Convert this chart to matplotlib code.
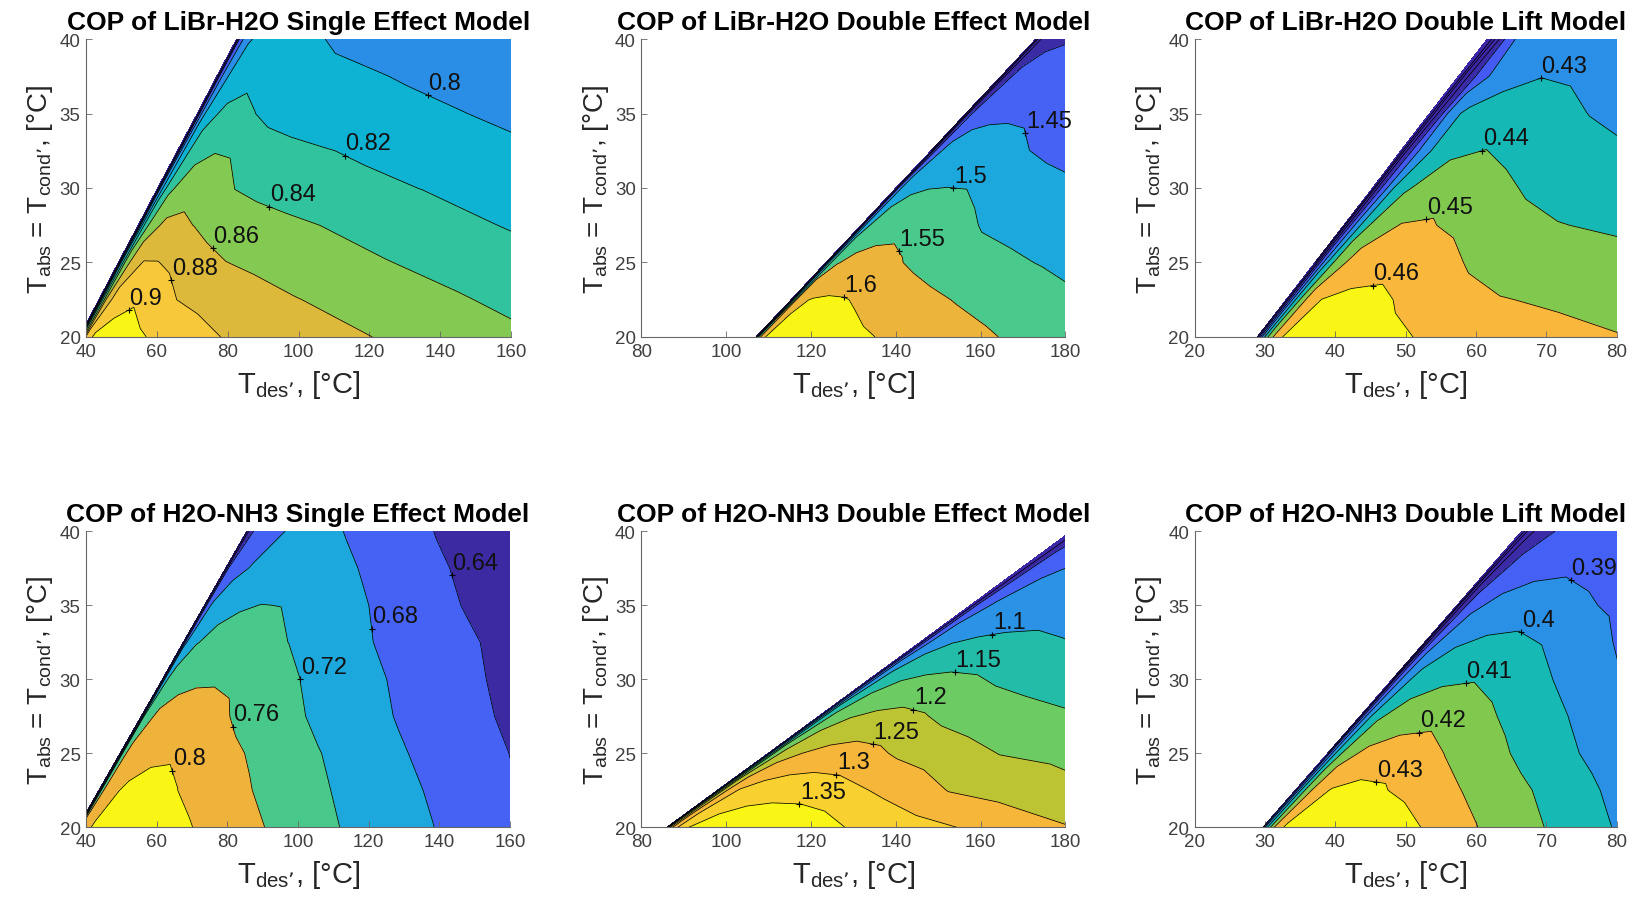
import numpy as np
import matplotlib.pyplot as plt

plt.rcParams['font.family'] = ['Liberation Sans', 'DejaVu Sans']
plt.rcParams['mathtext.default'] = 'regular'

# rows of every map: T_abs = T_cond' [°C]
tabs = [20, 22.5, 25, 27.5, 30, 32.5, 35, 37.5, 40]

# ---------------- LiBr-H2O single effect ----------------
# lowest feasible T_des on each row, then T_des measured from that edge
libr_se_edge = [38.0, 43.6, 49.1, 54.7, 60.2, 65.8, 71.4, 76.9, 82.5]
libr_se_off = [0, 0.8, 2, 4, 7, 11, 16, 22, 30, 40, 55, 75, 100, 125]
libr_se_cop = [
    [0.70, 0.82, 0.885, 0.902, 0.905, 0.906, 0.903, 0.897, 0.889, 0.880, 0.8729, 0.8633, 0.8528, 0.8428],
    [0.70, 0.81, 0.860, 0.885, 0.895, 0.8985, 0.890, 0.880, 0.8745, 0.8696, 0.8610, 0.8526, 0.8424, 0.8322],
    [0.70, 0.80, 0.845, 0.870, 0.8808, 0.8806, 0.876, 0.868, 0.8605, 0.8555, 0.849, 0.841, 0.8315, 0.822],
    [0.70, 0.79, 0.830, 0.852, 0.863, 0.864, 0.8595, 0.853, 0.8485, 0.8445, 0.8385, 0.830, 0.8205, 0.812],
    [0.70, 0.78, 0.815, 0.837, 0.848, 0.853, 0.850, 0.8395, 0.835, 0.8305, 0.8255, 0.8195, 0.811, 0.803],
    [0.70, 0.775, 0.805, 0.826, 0.835, 0.839, 0.8375, 0.831, 0.8255, 0.8215, 0.8165, 0.810, 0.8015, 0.793],
    [0.70, 0.77, 0.798, 0.815, 0.823, 0.826, 0.8205, 0.8135, 0.8105, 0.808, 0.8045, 0.8003, 0.7945, 0.788],
    [0.70, 0.765, 0.790, 0.806, 0.812, 0.815, 0.8115, 0.8065, 0.804, 0.802, 0.7985, 0.794, 0.789, 0.784],
    [0.70, 0.76, 0.782, 0.799, 0.805, 0.808, 0.806, 0.8015, 0.7975, 0.795, 0.7915, 0.7875, 0.783, 0.778],
]
libr_se_lv = [0.72, 0.74, 0.76, 0.78, 0.80, 0.82, 0.84, 0.86, 0.88, 0.90]
libr_se_lab = [0.8, 0.82, 0.84, 0.86, 0.88, 0.9]

# ---------------- LiBr-H2O double effect ----------------
libr_de_edge = [107.0, 115.3, 123.5, 131.8, 140.0, 148.3, 156.5, 164.8, 173.0]
libr_de_off = [0, 0.6, 1.5, 3, 5, 8, 12, 17, 23, 30, 40, 52, 65, 80]
libr_de_cop = [
    [1.30, 1.50, 1.595, 1.605, 1.610, 1.614, 1.616, 1.615, 1.608, 1.597, 1.578, 1.558, 1.538, 1.515],
    [1.28, 1.46, 1.585, 1.597, 1.602, 1.6045, 1.6025, 1.595, 1.580, 1.563, 1.546, 1.530, 1.508, 1.490],
    [1.28, 1.44, 1.520, 1.548, 1.558, 1.564, 1.565, 1.553, 1.538, 1.526, 1.512, 1.496, 1.480, 1.465],
    [1.27, 1.42, 1.490, 1.515, 1.527, 1.533, 1.535, 1.530, 1.512, 1.494, 1.482, 1.470, 1.455, 1.440],
    [1.26, 1.40, 1.460, 1.484, 1.494, 1.499, 1.5005, 1.499, 1.486, 1.470, 1.458, 1.445, 1.430, 1.420],
    [1.25, 1.37, 1.430, 1.458, 1.468, 1.473, 1.475, 1.470, 1.4505, 1.440, 1.430, 1.420, 1.410, 1.400],
    [1.24, 1.35, 1.400, 1.425, 1.436, 1.440, 1.441, 1.437, 1.428, 1.420, 1.410, 1.400, 1.390, 1.380],
    [1.23, 1.33, 1.385, 1.405, 1.413, 1.416, 1.418, 1.415, 1.410, 1.400, 1.390, 1.380, 1.370, 1.360],
    [1.22, 1.31, 1.360, 1.385, 1.393, 1.397, 1.398, 1.396, 1.390, 1.385, 1.380, 1.370, 1.360, 1.350],
]
libr_de_lv = [1.25, 1.30, 1.35, 1.40, 1.45, 1.50, 1.55, 1.60]
libr_de_lab = [1.45, 1.5, 1.55, 1.6]

# ---------------- LiBr-H2O double lift ----------------
libr_dl_edge = [28.9, 33.0, 37.1, 41.2, 45.3, 49.3, 53.4, 57.5, 61.6]
libr_dl_off = [0, 0.3, 0.8, 1.6, 3, 5, 8, 12, 17, 23, 30, 40, 52]
libr_dl_cop = [
    [0.390, 0.405, 0.425, 0.442, 0.4595, 0.4612, 0.4622, 0.4626, 0.4618, 0.4597, 0.4565, 0.4530, 0.4502],
    [0.385, 0.400, 0.418, 0.436, 0.4525, 0.4601, 0.4615, 0.4618, 0.4590, 0.4555, 0.4505, 0.4485, 0.4465],
    [0.380, 0.396, 0.412, 0.428, 0.444, 0.4525, 0.4565, 0.4575, 0.4548, 0.4478, 0.4455, 0.4435, 0.441],
    [0.375, 0.392, 0.407, 0.421, 0.437, 0.446, 0.4503, 0.4508, 0.4475, 0.4435, 0.4404, 0.4385, 0.436],
    [0.370, 0.388, 0.403, 0.415, 0.430, 0.439, 0.4445, 0.4465, 0.4425, 0.4385, 0.4365, 0.4335, 0.431],
    [0.365, 0.384, 0.399, 0.410, 0.424, 0.433, 0.4385, 0.4402, 0.4375, 0.4340, 0.4317, 0.4295, 0.427],
    [0.360, 0.380, 0.395, 0.406, 0.4265, 0.4315, 0.4335, 0.4345, 0.4328, 0.4297, 0.4265, 0.4240, 0.421],
    [0.355, 0.376, 0.391, 0.403, 0.4145, 0.4225, 0.4275, 0.4298, 0.4290, 0.4275, 0.4255, 0.4230, 0.420],
    [0.350, 0.370, 0.385, 0.398, 0.4165, 0.4235, 0.4262, 0.4272, 0.4268, 0.4260, 0.4240, 0.4210, 0.418],
]
libr_dl_lv = [0.38, 0.39, 0.40, 0.41, 0.42, 0.43, 0.44, 0.45, 0.46]
libr_dl_lab = [0.43, 0.44, 0.45, 0.46]

# ---------------- H2O-NH3 single effect ----------------
nh3_se_edge = [37.6, 43.6, 49.6, 55.6, 61.6, 67.5, 73.5, 79.5, 85.5]
nh3_se_off = [0, 0.8, 2, 4, 7, 11, 16, 22, 30, 40, 55, 75, 100, 125]
nh3_se_cop = [
    [0.55, 0.760, 0.790, 0.801, 0.808, 0.812, 0.8145, 0.813, 0.804, 0.7885, 0.7555, 0.7185, 0.6815, 0.641],
    [0.55, 0.745, 0.775, 0.795, 0.803, 0.8065, 0.807, 0.8005, 0.789, 0.767, 0.7365, 0.7055, 0.6675, 0.6305],
    [0.55, 0.735, 0.765, 0.783, 0.791, 0.796, 0.797, 0.7915, 0.770, 0.751, 0.7235, 0.6895, 0.6535, 0.620],
    [0.55, 0.720, 0.748, 0.764, 0.771, 0.7745, 0.775, 0.7675, 0.748, 0.732, 0.7045, 0.6745, 0.640, 0.607],
    [0.55, 0.705, 0.730, 0.745, 0.752, 0.7555, 0.756, 0.752, 0.738, 0.718, 0.694, 0.661, 0.6295, 0.597],
    [0.55, 0.675, 0.700, 0.718, 0.728, 0.733, 0.735, 0.730, 0.7195, 0.7025, 0.678, 0.6525, 0.618, 0.586],
    [0.55, 0.660, 0.683, 0.700, 0.711, 0.717, 0.7205, 0.7195, 0.7115, 0.6915, 0.665, 0.6365, 0.605, 0.575],
    [0.55, 0.640, 0.655, 0.670, 0.682, 0.692, 0.700, 0.703, 0.693, 0.6755, 0.6505, 0.6255, 0.595, 0.565],
    [0.55, 0.625, 0.641, 0.655, 0.667, 0.6805, 0.688, 0.6895, 0.675, 0.658, 0.637, 0.614, 0.585, 0.556],
]
nh3_se_lv = [0.56, 0.60, 0.64, 0.68, 0.72, 0.76, 0.80]
nh3_se_lab = [0.64, 0.68, 0.72, 0.76, 0.8]

# ---------------- H2O-NH3 double effect ----------------
nh3_de_edge = [86.0, 97.9, 109.9, 121.8, 133.7, 145.7, 157.6, 169.5, 181.4]
nh3_de_off = [0, 0.5, 1.5, 3, 5, 8, 12, 17, 24, 32, 42, 55, 70, 95]
nh3_de_cop = [
    [0.95, 1.17, 1.265, 1.315, 1.349, 1.368, 1.381, 1.389, 1.391, 1.382, 1.350, 1.325, 1.297, 1.2515],
    [0.93, 1.10, 1.220, 1.275, 1.303, 1.318, 1.327, 1.330, 1.326, 1.309, 1.285, 1.247, 1.228, 1.198],
    [0.92, 1.05, 1.160, 1.205, 1.232, 1.250, 1.262, 1.268, 1.262, 1.240, 1.222, 1.198, 1.1885, 1.170],
    [0.91, 1.02, 1.115, 1.155, 1.180, 1.198, 1.208, 1.213, 1.2045, 1.186, 1.172, 1.159, 1.148, 1.130],
    [0.90, 0.99, 1.070, 1.110, 1.132, 1.148, 1.156, 1.160, 1.1555, 1.142, 1.132, 1.120, 1.110, 1.090],
    [0.89, 0.96, 1.030, 1.065, 1.085, 1.099, 1.105, 1.109, 1.111, 1.104, 1.094, 1.085, 1.075, 1.060],
    [0.88, 0.94, 1.000, 1.035, 1.052, 1.063, 1.070, 1.075, 1.077, 1.072, 1.065, 1.055, 1.045, 1.030],
    [0.87, 0.92, 0.975, 1.010, 1.030, 1.045, 1.053, 1.056, 1.058, 1.055, 1.050, 1.040, 1.030, 1.020],
    [0.86, 0.90, 0.950, 0.985, 1.005, 1.020, 1.030, 1.035, 1.037, 1.035, 1.030, 1.020, 1.010, 1.000],
]
nh3_de_lv = [0.95, 1.00, 1.05, 1.10, 1.15, 1.20, 1.25, 1.30, 1.35]
nh3_de_lab = [1.1, 1.15, 1.2, 1.25, 1.3, 1.35]

# ---------------- H2O-NH3 double lift ----------------
nh3_dl_edge = [29.7, 34.3, 38.9, 43.5, 48.1, 52.7, 57.3, 61.9, 66.5]
nh3_dl_off = [0, 0.3, 0.8, 1.6, 3, 5, 8, 12, 17, 23, 30, 40, 52]
nh3_dl_cop = [
    [0.370, 0.390, 0.405, 0.420, 0.4305, 0.436, 0.4395, 0.4413, 0.438, 0.4292, 0.4206, 0.410, 0.3975],
    [0.365, 0.385, 0.400, 0.414, 0.4255, 0.4305, 0.4325, 0.4312, 0.4262, 0.4206, 0.4138, 0.4035, 0.391],
    [0.360, 0.380, 0.395, 0.407, 0.417, 0.4215, 0.4238, 0.4247, 0.4195, 0.4133, 0.4055, 0.396, 0.386],
    [0.355, 0.375, 0.389, 0.400, 0.409, 0.4135, 0.416, 0.4168, 0.4125, 0.4065, 0.3996, 0.3925, 0.383],
    [0.350, 0.370, 0.384, 0.394, 0.402, 0.406, 0.4085, 0.4094, 0.406, 0.3998, 0.3925, 0.386, 0.378],
    [0.345, 0.365, 0.378, 0.388, 0.395, 0.399, 0.4013, 0.4021, 0.3995, 0.3935, 0.387, 0.380, 0.372],
    [0.340, 0.360, 0.373, 0.382, 0.3885, 0.392, 0.3943, 0.3951, 0.3915, 0.3885, 0.383, 0.376, 0.368],
    [0.335, 0.355, 0.367, 0.376, 0.382, 0.3855, 0.3876, 0.3884, 0.3875, 0.385, 0.381, 0.375, 0.367],
    [0.330, 0.348, 0.360, 0.369, 0.3765, 0.3805, 0.3812, 0.3816, 0.381, 0.379, 0.3755, 0.370, 0.363],
]
nh3_dl_lv = [0.35, 0.36, 0.37, 0.38, 0.39, 0.40, 0.41, 0.42, 0.43]
nh3_dl_lab = [0.39, 0.4, 0.41, 0.42, 0.43]

# fill colours (parula-like), one more than the number of levels
IND = '#3E26A8'
YEL = '#F9F514'
col_libr_se = [IND, IND, '#4435D0', '#4657F2', '#2B8EE6', '#0EB2D3', '#30C39D', '#84CA52', '#DDB93B', '#F7C93A', YEL]
col_libr_de = [IND, IND, IND, '#3B2CA5', '#4562F5', '#1CA8DD', '#49C98B', '#EDB43B', YEL]
col_libr_dl = [IND, IND, IND, '#3C2BA6', '#4559F3', '#2A8FE6', '#15B8B4', '#80C84E', '#F9B73C', YEL]
col_nh3_se = [IND, IND, '#3C2AA3', '#4562F5', '#1CA8DD', '#48C98B', '#EFB33B', YEL]
col_nh3_de = [IND, '#3C29A6', '#4560F4', '#2A93E6', '#22BCA8', '#6CCB62', '#BCC434', '#F5B63A', '#F8D02F', YEL]
col_nh3_dl = [IND, IND, IND, '#3C2BA6', '#4560F4', '#2A90E6', '#17B9B4', '#80C84E', '#F8B73C', YEL]

# where the '+' of each inline label sits (approximate, snapped onto the line)
pos_libr_se = [(135.5, 36), (112.7, 32.1), (92.2, 28.9), (73.7, 25.7), (64, 23.8), (51.7, 21.9)]
pos_libr_de = [(168, 33.6), (153, 29.4), (139.8, 25.7), (127.7, 22.6)]
pos_libr_dl = [(69.3, 37.3), (61.0, 32.4), (53.0, 27.8), (45.2, 23.6)]
pos_nh3_se = [(142.9, 37.0), (120.1, 33.4), (100.2, 30.0), (81.4, 26.8), (64.0, 23.8)]
pos_nh3_de = [(162.9, 32.9), (153.8, 30.4), (144.3, 28.05), (134.6, 25.7), (125.8, 23.4), (117.1, 21.3)]
pos_nh3_dl = [(73.2, 36.6), (66.0, 33.0), (58.6, 29.6), (52.0, 26.3), (45.9, 23.2)]


def snap(polys, gx, gy, sx):
    best, bp = 1e9, (gx, gy)
    g = np.array([gx / sx, gy / 20.0])
    for p in polys:
        if len(p) < 2:
            continue
        q = p / [sx, 20.0]
        a, b = q[:-1], q[1:]
        ab = b - a
        t = np.clip(((g - a) * ab).sum(1) / np.maximum((ab * ab).sum(1), 1e-12), 0, 1)
        c = a + t[:, None] * ab
        d = ((c - g) ** 2).sum(1)
        j = np.argmin(d)
        if d[j] < best:
            best, bp = d[j], (c[j, 0] * sx, c[j, 1] * 20.0)
    return bp


def draw(ax, edge, off, cop, lv, cols, xlim, xticks, title, lab, pos):
    X = np.add.outer(np.array(edge), np.array(off))
    Y = np.repeat(np.array(tabs, float)[:, None], len(off), axis=1)
    Z = np.array(cop)
    ax.contourf(X, Y, Z, levels=[-10.0] + lv + [10.0], colors=cols)
    cs = ax.contour(X, Y, Z, levels=lv, colors='k', linewidths=0.55)
    sx = xlim[1] - xlim[0]
    for v, (gx, gy) in zip(lab, pos):
        k = int(np.argmin(np.abs(np.array(cs.levels) - v)))
        polys = cs.get_paths()[k].to_polygons(closed_only=False)
        px, py = snap(polys, gx, gy, sx)
        ax.plot(px, py, '+', color='k', ms=5, mew=0.8)
        ax.annotate('%g' % v, (px, py), xytext=(0.5, 1.0), textcoords='offset points',
                    fontsize=17, ha='left', va='bottom', color='#111111')
    ax.set_xlim(xlim)
    ax.set_ylim(20, 40)
    ax.set_xticks(xticks)
    ax.set_yticks([20, 25, 30, 35, 40])
    ax.set_title(title, fontsize=19, fontweight='bold', pad=7)
    ax.set_xlabel("T$_{des\u2019}$, [°C]", fontsize=21, color='#262626', labelpad=6)
    ax.set_ylabel("T$_{abs}$ = T$_{cond\u2019}$, [°C]", fontsize=20, color='#262626', labelpad=3)
    for s in ('top', 'right'):
        ax.spines[s].set_visible(False)
    for s in ('left', 'bottom'):
        ax.spines[s].set_color('#666666')
        ax.spines[s].set_linewidth(0.8)
    ax.tick_params(direction='in', length=4, width=0.6, colors='#666666',
                   labelcolor='#404040', labelsize=13.5, pad=4)


fig = plt.figure(figsize=(16.46, 9.03), dpi=100)

top, bot = 0.6257, 0.0827
ax1 = fig.add_axes([0.0523, top, 0.2582, 0.330])
ax2 = fig.add_axes([0.3897, top, 0.2576, 0.330])
ax3 = fig.add_axes([0.7258, top, 0.2564, 0.330])
ax4 = fig.add_axes([0.0523, bot, 0.2576, 0.328])
ax5 = fig.add_axes([0.3897, bot, 0.2576, 0.328])
ax6 = fig.add_axes([0.7258, bot, 0.2564, 0.328])

draw(ax1, libr_se_edge, libr_se_off, libr_se_cop, libr_se_lv, col_libr_se, (40, 160),
     range(40, 161, 20), 'COP of LiBr-H2O Single Effect Model', libr_se_lab, pos_libr_se)
draw(ax2, libr_de_edge, libr_de_off, libr_de_cop, libr_de_lv, col_libr_de, (80, 180),
     range(80, 181, 20), 'COP of LiBr-H2O Double Effect Model', libr_de_lab, pos_libr_de)
draw(ax3, libr_dl_edge, libr_dl_off, libr_dl_cop, libr_dl_lv, col_libr_dl, (20, 80),
     range(20, 81, 10), 'COP of LiBr-H2O Double Lift Model', libr_dl_lab, pos_libr_dl)
draw(ax4, nh3_se_edge, nh3_se_off, nh3_se_cop, nh3_se_lv, col_nh3_se, (40, 160),
     range(40, 161, 20), 'COP of H2O-NH3 Single Effect Model', nh3_se_lab, pos_nh3_se)
draw(ax5, nh3_de_edge, nh3_de_off, nh3_de_cop, nh3_de_lv, col_nh3_de, (80, 180),
     range(80, 181, 20), 'COP of H2O-NH3 Double Effect Model', nh3_de_lab, pos_nh3_de)
draw(ax6, nh3_dl_edge, nh3_dl_off, nh3_dl_cop, nh3_dl_lv, col_nh3_dl, (20, 80),
     range(20, 81, 10), 'COP of H2O-NH3 Double Lift Model', nh3_dl_lab, pos_nh3_dl)

fig.savefig('out.png', dpi=100)
